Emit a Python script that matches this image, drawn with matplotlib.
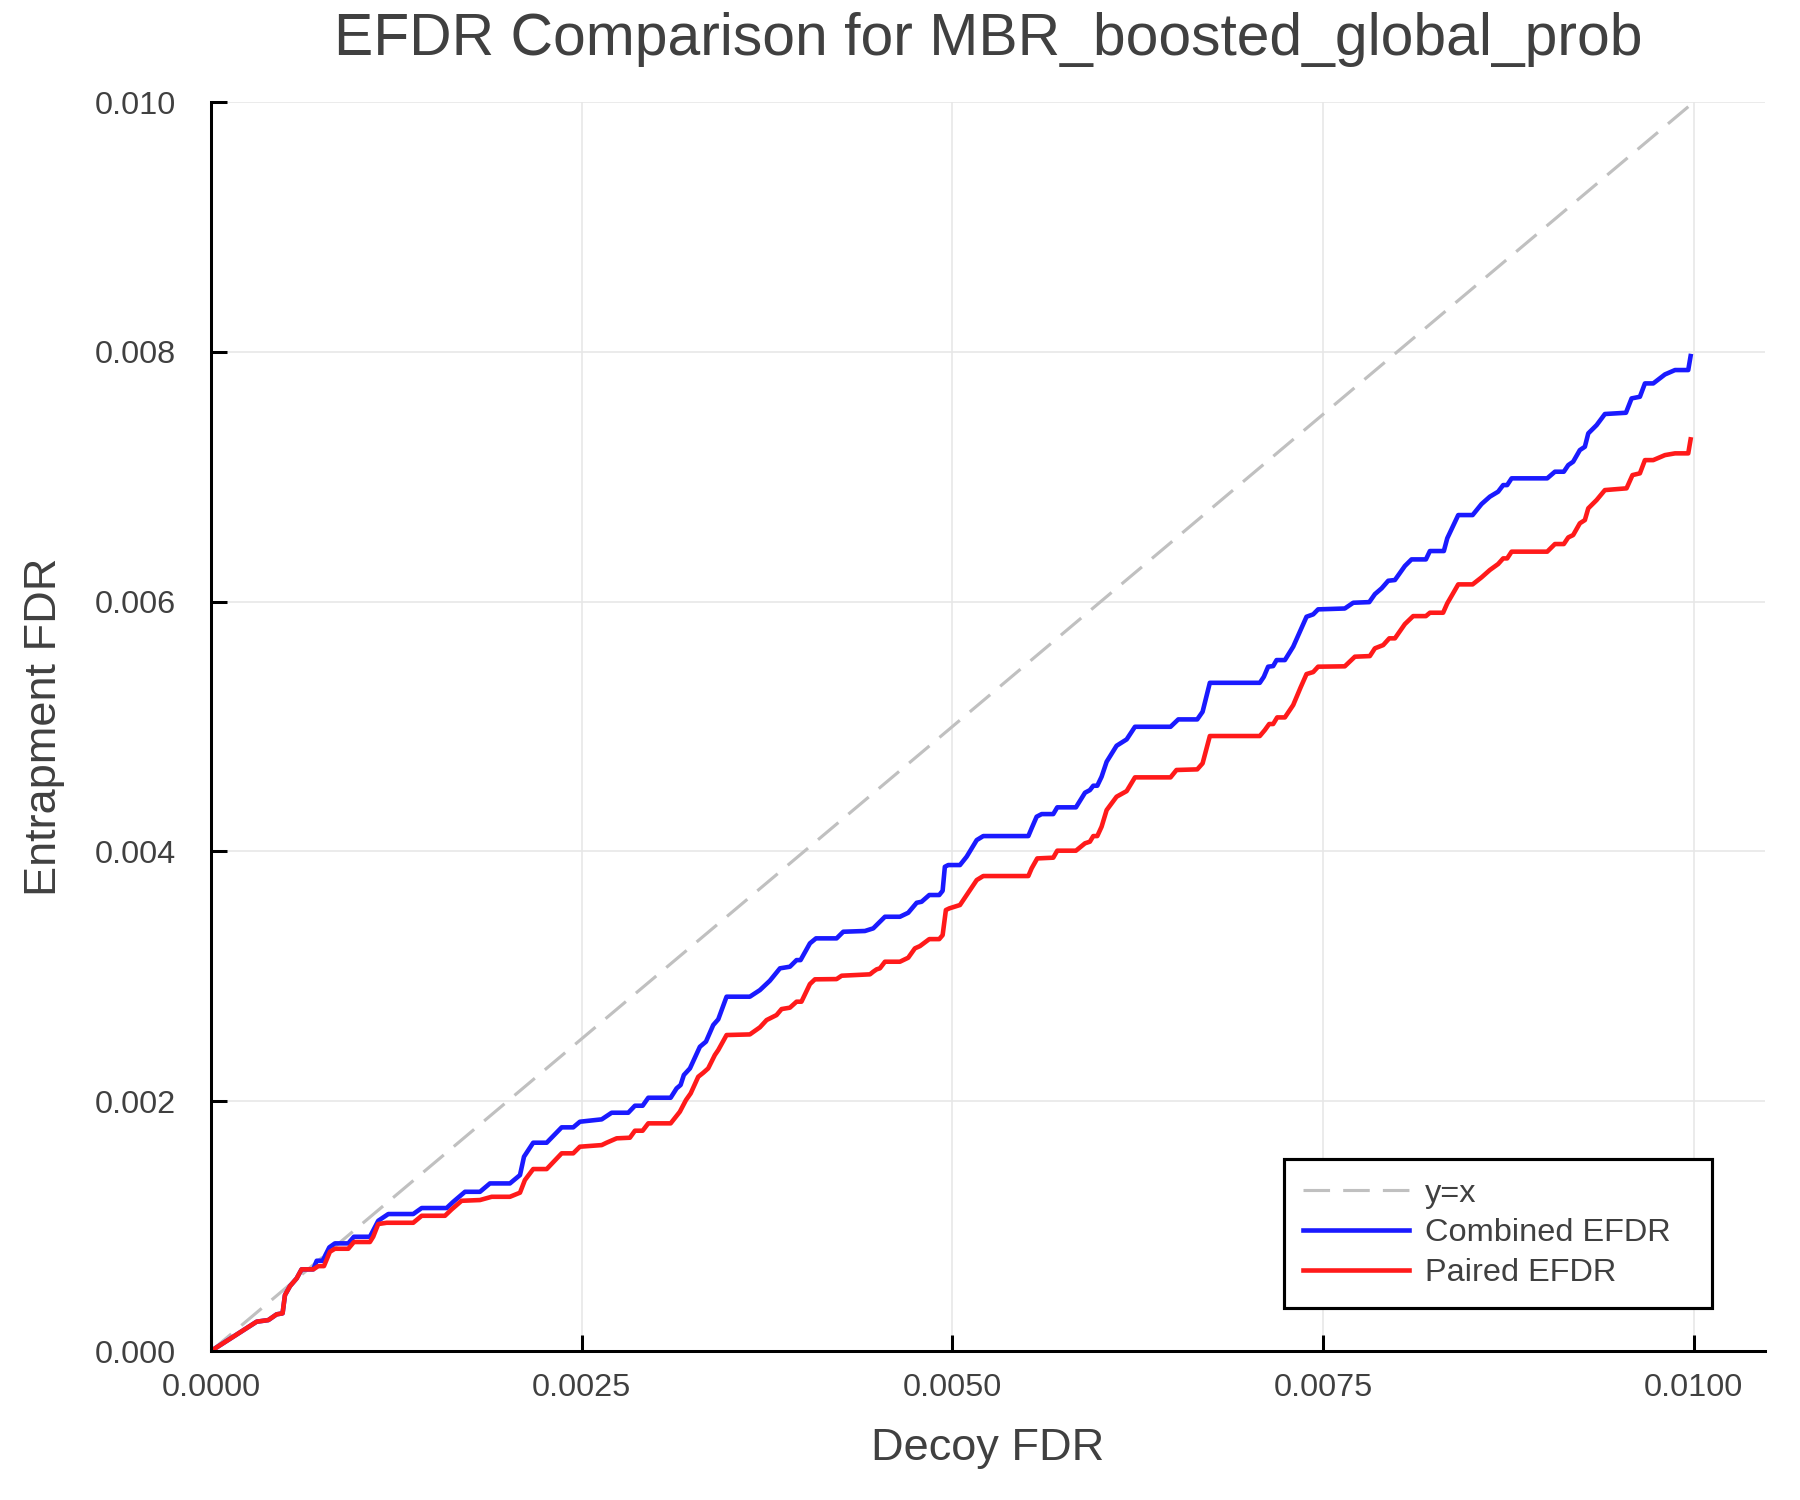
import numpy as np
import matplotlib
matplotlib.use('Agg')
import matplotlib.pyplot as plt

plt.rcParams['font.family'] = ['Liberation Sans', 'DejaVu Sans']

#data
decoy_fdr_combined = [
    0.0, 0.000308, 0.000387, 0.000443, 0.000483, 0.000499, 0.000533, 0.000578, 0.000611, 0.000690,
    0.000713, 0.000753, 0.000798, 0.000836, 0.000926, 0.000964, 0.001072, 0.001128, 0.001196, 0.001364,
    0.001421, 0.001589, 0.001634, 0.001713, 0.001814, 0.001881, 0.002016, 0.002084, 0.002111, 0.002173,
    0.002264, 0.002365, 0.002443, 0.002488, 0.002635, 0.002702, 0.002814, 0.002859, 0.002911, 0.002949,
    0.003100, 0.003140, 0.003167, 0.003189, 0.003230, 0.003297, 0.003338, 0.003387, 0.003421, 0.003477,
    0.003634, 0.003702, 0.003769, 0.003837, 0.003904, 0.003949, 0.003976, 0.004039, 0.004080, 0.004219,
    0.004264, 0.004410, 0.004466, 0.004500, 0.004545, 0.004646, 0.004702, 0.004759, 0.004792, 0.004844,
    0.004911, 0.004934, 0.004949, 0.004972, 0.005051, 0.005096, 0.005164, 0.005208, 0.005512, 0.005534,
    0.005568, 0.005602, 0.005680, 0.005707, 0.005833, 0.005894, 0.005927, 0.005950, 0.005977, 0.006006,
    0.006040, 0.006107, 0.006175, 0.006231, 0.006471, 0.006523, 0.006651, 0.006687, 0.006736, 0.007073,
    0.007100, 0.007129, 0.007163, 0.007186, 0.007242, 0.007298, 0.007343, 0.007388, 0.007433, 0.007466,
    0.007646, 0.007703, 0.007811, 0.007849, 0.007894, 0.007939, 0.007984, 0.008051, 0.008096, 0.008193,
    0.008220, 0.008314, 0.008337, 0.008411, 0.008508, 0.008568, 0.008624, 0.008680, 0.008714, 0.008741,
    0.008771, 0.009011, 0.009063, 0.009123, 0.009153, 0.009186, 0.009231, 0.009265, 0.009288, 0.009344,
    0.009400, 0.009542, 0.009580, 0.009636, 0.009670, 0.009726, 0.009805, 0.009873, 0.009962, 0.009978]
combined_efdr = [
    0.0, 0.000235, 0.000248, 0.000294, 0.000302, 0.000448, 0.000520, 0.000582, 0.000654, 0.000654,
    0.000723, 0.000723, 0.000830, 0.000862, 0.000862, 0.000915, 0.000915, 0.001043, 0.001097, 0.001097,
    0.001145, 0.001145, 0.001195, 0.001275, 0.001275, 0.001342, 0.001342, 0.001409, 0.001556, 0.001668,
    0.001668, 0.001791, 0.001791, 0.001836, 0.001855, 0.001908, 0.001908, 0.001964, 0.001964, 0.002028,
    0.002028, 0.002103, 0.002130, 0.002210, 0.002263, 0.002436, 0.002477, 0.002610, 0.002656, 0.002837,
    0.002837, 0.002890, 0.002965, 0.003064, 0.003077, 0.003130, 0.003130, 0.003264, 0.003304, 0.003304,
    0.003357, 0.003363, 0.003384, 0.003424, 0.003477, 0.003477, 0.003509, 0.003589, 0.003597, 0.003651,
    0.003651, 0.003685, 0.003877, 0.003891, 0.003891, 0.003958, 0.004091, 0.004123, 0.004123, 0.004185,
    0.004278, 0.004299, 0.004299, 0.004353, 0.004353, 0.004470, 0.004491, 0.004526, 0.004526, 0.004598,
    0.004718, 0.004846, 0.004897, 0.004998, 0.004998, 0.005057, 0.005057, 0.005118, 0.005350, 0.005350,
    0.005398, 0.005479, 0.005484, 0.005532, 0.005532, 0.005639, 0.005759, 0.005879, 0.005898, 0.005938,
    0.005945, 0.005991, 0.005996, 0.006060, 0.006106, 0.006167, 0.006173, 0.006285, 0.006338, 0.006338,
    0.006405, 0.006405, 0.006507, 0.006693, 0.006693, 0.006781, 0.006840, 0.006880, 0.006933, 0.006933,
    0.006987, 0.006987, 0.007040, 0.007040, 0.007093, 0.007120, 0.007213, 0.007240, 0.007347, 0.007413,
    0.007502, 0.007512, 0.007627, 0.007640, 0.007747, 0.007747, 0.007819, 0.007854, 0.007854, 0.007966]

decoy_fdr_paired = [
    0.0, 0.000308, 0.000387, 0.000443, 0.000483, 0.000499, 0.000533, 0.000578, 0.000611, 0.000690,
    0.000724, 0.000762, 0.000802, 0.000836, 0.000926, 0.000964, 0.001072, 0.001094, 0.001128, 0.001185,
    0.001364, 0.001421, 0.001578, 0.001623, 0.001690, 0.001814, 0.001893, 0.002016, 0.002084, 0.002117,
    0.002173, 0.002264, 0.002365, 0.002443, 0.002488, 0.002635, 0.002668, 0.002736, 0.002825, 0.002859,
    0.002911, 0.002949, 0.003100, 0.003162, 0.003203, 0.003235, 0.003286, 0.003320, 0.003353, 0.003398,
    0.003421, 0.003477, 0.003634, 0.003702, 0.003747, 0.003814, 0.003848, 0.003904, 0.003949, 0.003982,
    0.004039, 0.004073, 0.004219, 0.004253, 0.004444, 0.004466, 0.004489, 0.004511, 0.004545, 0.004646,
    0.004702, 0.004747, 0.004781, 0.004844, 0.004911, 0.004934, 0.004956, 0.004979, 0.005051, 0.005096,
    0.005164, 0.005208, 0.005512, 0.005534, 0.005572, 0.005680, 0.005707, 0.005833, 0.005894, 0.005927,
    0.005950, 0.005977, 0.006006, 0.006040, 0.006107, 0.006175, 0.006231, 0.006471, 0.006511, 0.006651,
    0.006687, 0.006736, 0.007073, 0.007107, 0.007136, 0.007163, 0.007190, 0.007242, 0.007298, 0.007348,
    0.007388, 0.007433, 0.007466, 0.007646, 0.007714, 0.007815, 0.007849, 0.007905, 0.007946, 0.007984,
    0.008051, 0.008107, 0.008193, 0.008220, 0.008309, 0.008337, 0.008411, 0.008508, 0.008568, 0.008624,
    0.008680, 0.008714, 0.008741, 0.008771, 0.009011, 0.009063, 0.009123, 0.009153, 0.009186, 0.009231,
    0.009265, 0.009288, 0.009344, 0.009400, 0.009546, 0.009586, 0.009636, 0.009670, 0.009726, 0.009805,
    0.009873, 0.009962, 0.009978]
paired_efdr = [
    0.0, 0.000235, 0.000248, 0.000294, 0.000302, 0.000448, 0.000520, 0.000582, 0.000654, 0.000654,
    0.000680, 0.000680, 0.000795, 0.000819, 0.000819, 0.000873, 0.000873, 0.000915, 0.001017, 0.001027,
    0.001027, 0.001083, 0.001083, 0.001134, 0.001203, 0.001209, 0.001235, 0.001235, 0.001268, 0.001369,
    0.001457, 0.001457, 0.001583, 0.001583, 0.001636, 0.001649, 0.001668, 0.001703, 0.001708, 0.001764,
    0.001764, 0.001823, 0.001823, 0.001916, 0.002009, 0.002063, 0.002196, 0.002228, 0.002263, 0.002370,
    0.002410, 0.002530, 0.002535, 0.002592, 0.002650, 0.002690, 0.002738, 0.002749, 0.002797, 0.002797,
    0.002938, 0.002976, 0.002978, 0.003005, 0.003016, 0.003037, 0.003056, 0.003064, 0.003117, 0.003117,
    0.003149, 0.003224, 0.003242, 0.003298, 0.003298, 0.003330, 0.003531, 0.003544, 0.003571, 0.003651,
    0.003771, 0.003803, 0.003803, 0.003864, 0.003944, 0.003950, 0.004006, 0.004006, 0.004065, 0.004078,
    0.004123, 0.004123, 0.004198, 0.004331, 0.004438, 0.004483, 0.004593, 0.004593, 0.004652, 0.004657,
    0.004705, 0.004924, 0.004924, 0.004972, 0.005020, 0.005020, 0.005073, 0.005073, 0.005172, 0.005313,
    0.005420, 0.005436, 0.005479, 0.005482, 0.005559, 0.005564, 0.005626, 0.005652, 0.005706, 0.005706,
    0.005820, 0.005884, 0.005884, 0.005911, 0.005911, 0.005986, 0.006138, 0.006138, 0.006194, 0.006253,
    0.006301, 0.006346, 0.006346, 0.006400, 0.006400, 0.006461, 0.006461, 0.006514, 0.006533, 0.006627,
    0.006653, 0.006747, 0.006813, 0.006893, 0.006907, 0.007013, 0.007027, 0.007133, 0.007133, 0.007173,
    0.007187, 0.007187, 0.007299]

ref_x = [0.0, 0.01]
x_ticks = [0.0, 0.0025, 0.005, 0.0075, 0.01]
x_ticklabels = ['0.0000', '0.0025', '0.0050', '0.0075', '0.0100']
y_ticks = [0.0, 0.002, 0.004, 0.006, 0.008, 0.010]
y_ticklabels = ['0.000', '0.002', '0.004', '0.006', '0.008', '0.010']

txt = '#404040'

fig = plt.figure(figsize=(12, 10), dpi=150)
ax = fig.add_axes([0.1172, 0.0993, 0.8633, 0.8327])

ax.plot(ref_x, ref_x, color='#c0c0c0', lw=1.5, linestyle=(0, (8.5, 4.2)), label='y=x')
ax.plot(decoy_fdr_combined, combined_efdr, color='#1a1aff', lw=2.2, label='Combined EFDR',
        solid_joinstyle='round')
ax.plot(decoy_fdr_paired, paired_efdr, color='#ff1a1a', lw=2.2, label='Paired EFDR',
        solid_joinstyle='round')

ax.set_xlim(0, 0.010479)
ax.set_ylim(0, 0.010)
ax.set_xticks(x_ticks)
ax.set_xticklabels(x_ticklabels)
ax.set_yticks(y_ticks)
ax.set_yticklabels(y_ticklabels)

ax.grid(True, color='#e6e6e6', lw=0.75)
ax.set_axisbelow(True)
for s in ['top', 'right']:
    ax.spines[s].set_visible(False)
for s in ['left', 'bottom']:
    ax.spines[s].set_linewidth(1.45)
    ax.spines[s].set_color('black')
ax.tick_params(axis='both', direction='in', length=7.7, width=1.45, color='black',
               labelsize=15.6, labelcolor=txt)
ax.tick_params(axis='x', pad=10.5)
ax.tick_params(axis='y', pad=17)

ax.set_xlabel('Decoy FDR', fontsize=21.7, color=txt)
ax.xaxis.label.set_va('baseline')
ax.xaxis.set_label_coords(0.5, -0.0873)
ax.set_ylabel('Entrapment FDR', fontsize=21.7, color=txt)
ax.yaxis.label.set_va('baseline')
ax.yaxis.set_label_coords(-0.0999, 0.5)

fig.text(0.5 * (0.1172 + 0.1172 + 0.8633), 1 - 55 / 1500, 'EFDR Comparison for MBR_boosted_global_prob',
         fontsize=28.2, color=txt, ha='center', va='baseline')

leg = ax.legend(loc='upper left', bbox_to_anchor=(0.6905, 0.1537, 0.2754, 0.0), mode='expand',
                borderaxespad=0, fontsize=15.6, fancybox=False, framealpha=1, edgecolor='black',
                handlelength=3.25, handletextpad=0.5, labelspacing=0.3, borderpad=0.6)
leg.get_frame().set_linewidth(1.5)
for t in leg.get_texts():
    t.set_color(txt)

fig.savefig('out.png', dpi=150)
